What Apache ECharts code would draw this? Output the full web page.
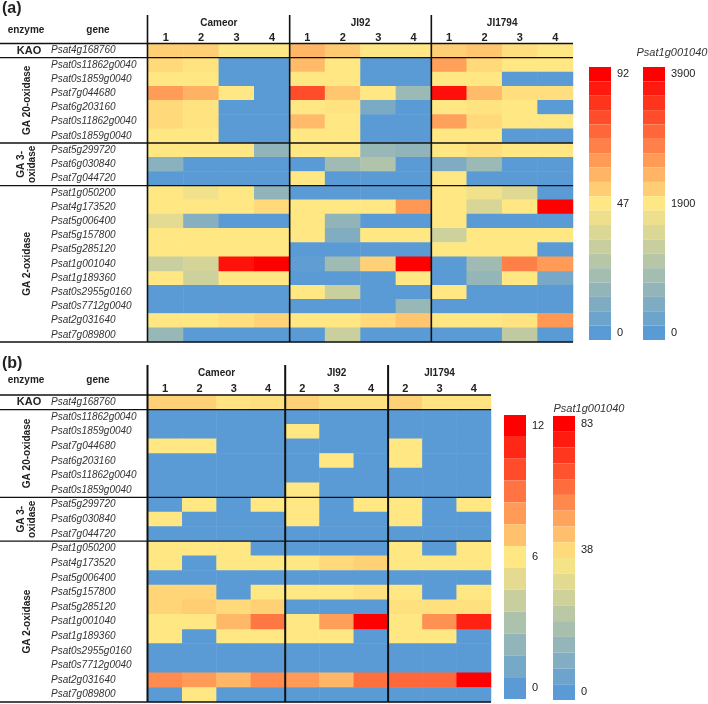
<!DOCTYPE html>
<html>
<head>
<meta charset="utf-8">
<script src="https://cdn.jsdelivr.net/npm/echarts@6/dist/echarts.min.js"></script>
<style>
  html, body { margin: 0; padding: 0; background: #fff; }
  #chart { width: 708px; height: 704px; }
</style>
</head>
<body>
<div id="chart"></div>
<script>
const FONT = '"Liberation Sans", Arial, sans-serif';
const RAMP = ["#5B9BD5", "#FFE883", "#FF0000"];

// rows, top to bottom
const genes = [
  "Psat4g168760",
  "Psat0s11862g0040", "Psat0s1859g0040", "Psat7g044680", "Psat6g203160", "Psat0s11862g0040", "Psat0s1859g0040",
  "Psat5g299720", "Psat6g030840", "Psat7g044720",
  "Psat1g050200", "Psat4g173520", "Psat5g006400", "Psat5g157800", "Psat5g285120", "Psat1g001040",
  "Psat1g189360", "Psat0s2955g0160", "Psat0s7712g0040", "Psat2g031640", "Psat7g089800",
];
const enzymes = ["KAO", "GA 20-oxidase", "GA 3-\noxidase", "GA 2-oxidase"];
const enzymeSizes = [1, 6, 3, 11];
const specialGene = "Psat1g001040"; // drawn on its own scale

const strains = ["Cameor", "JI92", "JI1794"];
const colsA = ["1", "2", "3", "4", "1", "2", "3", "4", "1", "2", "3", "4"];
const strainSizesA = [4, 4, 4];
const colsB = ["1", "2", "3", "4", "2", "3", "4", "2", "3", "4"];
const strainSizesB = [4, 3, 3];

// legend ticks: min, mid, max
const scaleA = [0, 47, 92];
const scaleA2 = [0, 1900, 3900];
const scaleB = [0, 6, 12];
const scaleB2 = [0, 38, 83];

// (a) expression, Psat1g001040 row on scaleA2
const valuesA = [
  [51, 51, 46, 46, 56, 52, 46, 46, 51, 53, 48, 46],
  [49, 47, 0, 0, 55, 46, 0, 0, 60, 49, 46, 46],
  [46, 46, 0, 0, 46, 46, 0, 0, 46, 46, 0, 0],
  [61, 57, 46, 0, 77, 53, 46, 18, 89, 55, 48, 48],
  [49, 47, 0, 0, 46, 47, 9, 0, 46, 47, 46, 0],
  [49, 47, 0, 0, 55, 46, 0, 0, 60, 49, 46, 46],
  [46, 46, 0, 0, 46, 46, 0, 0, 46, 46, 0, 0],
  [46, 46, 46, 15, 46, 46, 17, 15, 46, 48, 46, 46],
  [13, 0, 0, 0, 0, 19, 24, 0, 10, 18, 0, 0],
  [0, 0, 0, 0, 46, 0, 0, 0, 46, 0, 0, 0],
  [46, 42, 46, 15, 0, 0, 0, 0, 46, 42, 37, 0],
  [46, 46, 46, 49, 46, 46, 46, 62, 46, 35, 46, 92],
  [38, 12, 0, 0, 46, 15, 0, 0, 46, 0, 0, 0],
  [46, 46, 46, 46, 46, 11, 46, 46, 32, 46, 46, 46],
  [46, 46, 46, 46, 0, 0, 0, 0, 46, 46, 46, 0],
  [1310, 1440, 3750, 3900, 60, 820, 2150, 3900, 0, 820, 2830, 2600],
  [46, 32, 46, 46, 0, 0, 0, 46, 0, 16, 46, 8],
  [0, 0, 0, 0, 46, 31, 0, 0, 46, 0, 0, 0],
  [0, 0, 0, 0, 0, 0, 0, 17, 0, 0, 0, 0],
  [46, 46, 48, 50, 46, 46, 49, 53, 46, 46, 47, 62],
  [17, 0, 0, 0, 0, 31, 0, 0, 0, 0, 28, 0],
];

// (b) expression, Psat1g001040 row on scaleB2
const valuesB = [
  [6.6, 6.6, 6.1, 6.2, 6.6, 6.2, 6.2, 6.6, 6.1, 6.1],
  [0, 0, 0, 0, 0, 0, 0, 0, 0, 0],
  [0, 0, 0, 0, 6, 0, 0, 0, 0, 0],
  [6, 6, 0, 0, 0, 0, 0, 6, 0, 0],
  [0, 0, 0, 0, 0, 6, 0, 6, 0, 0],
  [0, 0, 0, 0, 0, 0, 0, 0, 0, 0],
  [0, 0, 0, 0, 6, 0, 0, 0, 0, 0],
  [0, 6, 0, 6, 6, 0, 6, 6, 0, 6],
  [6, 0, 0, 0, 6, 0, 0, 6, 0, 0],
  [0, 0, 0, 0, 0, 0, 0, 0, 0, 0],
  [6, 6, 6, 0, 0, 0, 0, 6, 0, 6],
  [6, 0, 6, 6, 6, 6.4, 6.6, 6, 6, 6],
  [0, 0, 0, 0, 0, 0, 0, 0, 0, 0],
  [6.5, 6.5, 0, 6, 6, 6, 6.2, 6, 0, 6],
  [6.5, 6.7, 6.4, 6.6, 0, 0, 0, 6.2, 6.2, 6.2],
  [41.5, 41.5, 50, 61.5, 41.5, 54.5, 83, 41.5, 57, 77],
  [6, 0, 6, 6, 6, 6, 0, 6, 6, 0],
  [0, 0, 0, 0, 0, 0, 0, 0, 0, 0],
  [0, 0, 0, 0, 0, 0, 0, 0, 0, 0],
  [8.4, 8.0, 7.3, 8.4, 8.0, 7.3, 9.1, 9.3, 9.3, 12],
  [0, 6, 0, 0, 0, 0, 0, 0, 0, 0],
];

const panels = [
  {
    label: "(a)", cols: colsA, strainSizes: strainSizesA, values: valuesA, scale: scaleA, scale2: scaleA2,
    grid: { left: 148, top: 43.5, width: 425, height: 298.5 },
    headTop: 15, labelY: 9, headY: 30.5, strainY: 23, numMargin: 0, vWidth: 1.6,
    bars: [{ left: 589, top: 67, h: 273, n: 19 }, { left: 643, top: 67, h: 273, n: 19 }],
    titleX: 672, titleY: 53,
  },
  {
    label: "(b)", cols: colsB, strainSizes: strainSizesB, values: valuesB, scale: scaleB, scale2: scaleB2,
    grid: { left: 148, top: 395, width: 343, height: 307 },
    headTop: 365, labelY: 364, headY: 380, strainY: 373, numMargin: 1, vWidth: 2,
    bars: [{ left: 504, top: 415, h: 284, n: 13 }, { left: 553, top: 416, h: 284, n: 18 }],
    titleX: 589, titleY: 409,
  },
];

const specialRow = genes.indexOf(specialGene);

function cells(values, keep) {
  const out = [];
  values.forEach((row, r) => {
    if (!keep(r)) return;
    row.forEach((v, c) => out.push([c, r, v]));
  });
  return out;
}

function text(x, y, str, style, extra) {
  return Object.assign({
    type: "text", x, y, silent: true, z: 100,
    style: Object.assign({
      text: str, fill: "#222", fontFamily: FONT, fontSize: 10,
      align: "center", verticalAlign: "middle",
    }, style),
  }, extra);
}

function line(x1, y1, x2, y2, w) {
  return { type: "line", silent: true, z: 100, shape: { x1, y1, x2, y2 }, style: { stroke: "#111", lineWidth: w } };
}

function legendLabels(scale, n) {
  const step = scale[2] / n;
  return (v) => {
    const k = Math.round((v - scale[0]) / step);
    if (k === n - 1) return String(scale[2]);
    if (k === Math.floor(n / 2)) return String(scale[1]);
    if (k === 0) return String(scale[0]);
    return "";
  };
}

function panelGraphics(p) {
  const g = [];
  const L = p.grid.left, T = p.grid.top;
  const R = L + p.grid.width, B = T + p.grid.height;
  const rowH = p.grid.height / genes.length;
  const colW = p.grid.width / p.cols.length;

  // group separators
  let acc = 0;
  g.push(line(0, T, R, T, 1.3));
  enzymes.forEach((name, k) => {
    const n = enzymeSizes[k];
    const cy = T + (acc + n / 2) * rowH;
    acc += n;
    g.push(line(0, T + acc * rowH, R, T + acc * rowH, 1.3));
    if (n === 1) {
      g.push(text(29, cy, name, { fontWeight: "bold", fontSize: 11 }));
    } else {
      g.push(text(27, cy, name, { fontWeight: "bold", fontSize: 10, lineHeight: 11 }, { rotation: Math.PI / 2 }));
    }
  });

  // strain blocks
  g.push(line(L - 0.5, p.headTop, L - 0.5, B, p.vWidth));
  let c = 0;
  strains.forEach((name, k) => {
    const n = p.strainSizes[k];
    g.push(text(L + (c + n / 2) * colW, p.strainY, name, { fontWeight: "bold", fontSize: 10 }));
    c += n;
    if (k < strains.length - 1) g.push(line(L + c * colW, p.headTop, L + c * colW, B, p.vWidth));
  });

  g.push(text(2, p.labelY, p.label, { fontWeight: "bold", fontSize: 16, align: "left" }));
  g.push(text(26, p.headY, "enzyme", { fontWeight: "bold", fontSize: 10 }));
  g.push(text(98, p.headY, "gene", { fontWeight: "bold", fontSize: 10 }));
  g.push(text(p.titleX, p.titleY, specialGene, { fontStyle: "italic", fontSize: 11, fill: "#333" }));
  return g;
}

const visualMap = [];
const series = [];
panels.forEach((p, i) => {
  const base = series.length;
  series.push({
    type: "heatmap", xAxisIndex: i, yAxisIndex: i,
    data: cells(p.values, (r) => r !== specialRow),
    emphasis: { disabled: true },
  });
  series.push({
    type: "heatmap", xAxisIndex: i, yAxisIndex: i,
    data: cells(p.values, (r) => r === specialRow),
    emphasis: { disabled: true },
  });
  visualMap.push({ type: "continuous", show: false, seriesIndex: base, min: p.scale[0], max: p.scale[2], inRange: { color: RAMP } });
  visualMap.push({ type: "continuous", show: false, seriesIndex: base + 1, min: p.scale2[0], max: p.scale2[2], inRange: { color: RAMP } });
});

// colour-bar legends (they steer no series)
panels.forEach((p) => {
  [p.scale, p.scale2].forEach((scale, j) => {
    const b = p.bars[j];
    visualMap.push({
      type: "piecewise", seriesIndex: [], min: scale[0], max: scale[2], splitNumber: b.n,
      orient: "vertical", left: b.left, top: b.top, padding: 0,
      itemWidth: 22, itemHeight: b.h / b.n, itemGap: 0, itemSymbol: "rect",
      align: "left", textGap: 6, selectedMode: false, hoverLink: false,
      inRange: { color: RAMP },
      formatter: legendLabels(scale, b.n),
      textStyle: { color: "#222", fontSize: 11, fontFamily: FONT },
    });
  });
});

const chart = echarts.init(document.getElementById("chart"), null, { renderer: "canvas" });
chart.setOption({
  animation: false,
  textStyle: { fontFamily: FONT },
  grid: panels.map((p) => Object.assign({ containLabel: false, outerBoundsMode: "none" }, p.grid)),
  xAxis: panels.map((p, i) => ({
    type: "category", gridIndex: i, position: "top", data: p.cols,
    axisLine: { show: false }, axisTick: { show: false }, splitLine: { show: false },
    axisLabel: { interval: 0, margin: p.numMargin, color: "#222", fontSize: 11, fontWeight: "bold", fontFamily: FONT },
  })),
  yAxis: panels.map((p, i) => ({
    type: "category", gridIndex: i, inverse: true, data: genes,
    axisLine: { show: false }, axisTick: { show: false }, splitLine: { show: false },
    axisLabel: { interval: 0, align: "left", margin: 97, color: "#333", fontSize: 10, fontStyle: "italic", fontFamily: FONT },
  })),
  visualMap,
  series,
  graphic: panels.flatMap(panelGraphics),
});
</script>
</body>
</html>
